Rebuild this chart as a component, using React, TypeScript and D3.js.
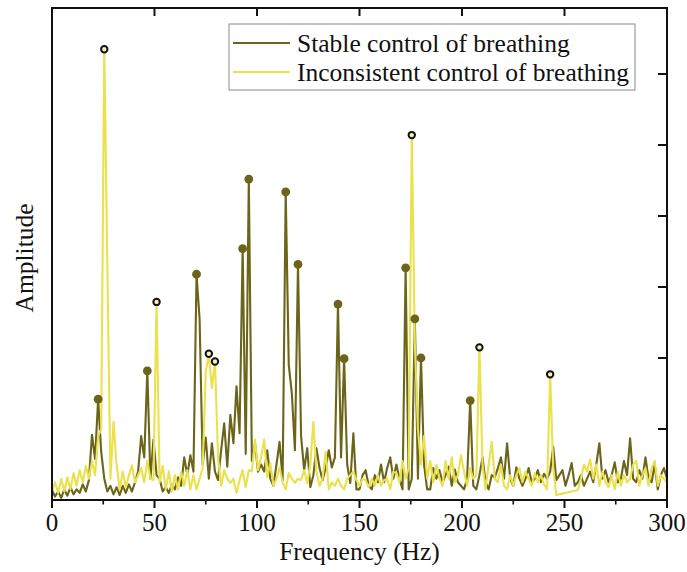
import React from "react";
import * as d3 from "d3";

// ---- data ----
const FREQ_STEP = 1.5; // Hz between spectrum samples
const seriesNames = ["Stable control of breathing", "Inconsistent control of breathing"];

const stableAmp = [
  0.14, 0.05, 0.12, 0.03, 0.15, 0.06, 0.18, 0.08, 0.15, 0.1, 0.22, 0.12, 0.28, 0.92, 0.58,
  1.42, 0.68, 0.3, 0.12, 0.2, 0.08, 0.18, 0.07, 0.2, 0.1, 0.22, 0.12, 0.25, 0.4, 0.9, 0.6,
  1.82, 0.3, 0.85, 0.35, 0.3, 0.12, 0.18, 0.1, 0.22, 0.15, 0.32, 0.2, 0.6, 0.35, 0.63, 0.4,
  3.18, 2.55, 0.5, 0.88, 0.3, 0.8, 0.4, 0.28, 0.7, 1.08, 0.47, 1.2, 0.8, 1.6, 0.94,
  3.54, 0.65, 4.52, 0.55, 0.8, 0.4, 0.5, 0.4, 0.7, 0.3, 0.2, 0.5, 0.82, 0.28,
  4.34, 1.9, 1.5, 0.7, 3.32, 0.9, 0.42, 0.73, 0.18, 0.35, 0.73, 0.45, 0.28, 0.45, 0.7, 0.46, 0.6,
  2.76, 0.6, 1.99, 0.5, 0.24, 0.94, 0.15, 0.15, 0.35, 0.42, 0.2, 0.15, 0.35, 0.25, 0.5, 0.25, 0.45, 0.6, 0.3, 0.5, 0.3, 0.15,
  3.27, 0.15, 0.3, 2.55, 0.3, 2.0, 0.5, 0.15, 0.15, 0.45, 0.3, 0.42, 0.25, 0.35, 0.47, 0.2, 0.43, 0.25, 0.2, 0.15, 0.3, 1.4,
  0.2, 0.15, 0.35, 0.6, 0.25, 0.15, 0.35, 0.32, 0.45, 0.6, 0.3, 0.8, 0.3, 0.2,
  0.46, 0.3, 0.2, 0.3, 0.45, 0.25, 0.3, 0.42, 0.25, 0.37, 0.3, 0.4, 0.75, 0.28, 0.35, 0.42, 0.2, 0.35, 0.52, 0.2, 0.25,
  0.35, 0.2, 0.3, 0.4, 0.25, 0.5, 0.8, 0.3, 0.42, 0.25, 0.35, 0.53, 0.25, 0.3, 0.55, 0.35, 0.87, 0.3, 0.25, 0.42, 0.3, 0.6, 0.3, 0.25, 0.5, 0.15, 0.35, 0.45, 0.3,
];

const inconsistentAmp = [
  0.12, 0.25, 0.1, 0.3, 0.12, 0.32, 0.15, 0.38, 0.2, 0.42, 0.25, 0.48, 0.3, 0.55, 0.35,
  0.9, 1.0, 6.35, 3.3, 0.3, 1.1, 0.5,
  0.15, 0.4, 0.18, 0.35, 0.49, 0.25, 0.35, 0.45, 0.25, 0.55, 0.3, 0.28,
  2.79, 0.25, 0.48, 0.15, 0.4, 0.12, 0.35, 0.15, 0.4, 0.2, 0.42, 0.15, 0.35, 0.15, 0.3,
  0.45, 1.8, 2.06, 1.58, 1.95, 0.6,
  0.2, 0.42, 0.3, 0.24, 0.3, 0.1, 0.28, 0.42, 0.18, 0.42, 0.4, 0.85, 0.42, 0.6, 0.85, 0.32, 0.52, 0.2, 0.3, 0.46, 0.25, 0.15, 0.38, 0.3, 0.24, 0.3, 0.28, 0.42, 0.24, 0.5,
  1.1, 0.4, 0.2, 0.3, 0.68, 0.15, 0.25, 0.2, 0.3, 0.2, 0.15, 0.3, 0.35, 0.4, 0.28, 0.2, 0.3, 0.28, 0.18, 0.3, 0.2, 0.35, 0.2, 0.28, 0.3, 0.15, 0.4,
  0.38, 0.25, 0.55, 0.3, 0.45, 5.14, 2.2, 1.0, 0.5, 0.9, 0.3, 0.55, 0.25, 0.5, 0.3, 0.2, 0.55, 0.3, 0.6, 0.25, 0.35, 0.63, 0.4, 0.2, 0.45, 0.3, 0.35,
  2.15, 0.5, 0.15, 0.5, 0.82, 0.3, 0.25, 0.5, 0.2, 0.15, 0.35, 0.2, 0.35, 0.45, 0.25, 0.4, 0.3, 0.2, 0.38, 0.25, 0.35, 0.22, 0.15,
  1.77, 0.45, 0.07, 0.08, 0.09, 0.1, 0.11, 0.12, 0.13, 0.14,
  0.3, 0.5, 0.4, 0.57, 0.3, 0.5, 0.2, 0.4, 0.25, 0.18, 0.35, 0.15, 0.4, 0.2, 0.35, 0.25, 0.3, 0.5, 0.55, 0.2, 0.35, 0.45, 0.2, 0.45, 0.55, 0.2, 0.35, 0.3, 0.25,
];

// sample indices of the marked peaks
const stablePeaks = [15, 31, 47, 62, 64, 76, 80, 93, 95, 115, 118, 120, 136];
const inconsistentPeaks = [17, 34, 51, 53, 117, 139, 162];

const xTicks = [0, 50, 100, 150, 200, 250, 300];
const xMinorTicks = [25, 75, 125, 175, 225, 275];
const yTicks = [1, 2, 3, 4, 5, 6];

// ---- layout ----
const W = 687, H = 572;
const L = 52, R = 667, T = 8, B = 500;
const FONT = "'Liberation Serif', 'Times New Roman', serif";
const DARK = "#6b6419";
const YELLOW = "#eae14c";

export default function App() {
  const x = d3.scaleLinear().domain([0, 300]).range([L, R]);
  const y = d3.scaleLinear().domain([0, 6.93]).range([B, T]);

  const toPts = (arr: number[]) => arr.map((v, i) => [i * FREQ_STEP, v] as [number, number]);
  const stablePts = toPts(stableAmp);
  const incPts = toPts(inconsistentAmp);
  const line = d3.line<[number, number]>().x(d => x(d[0])).y(d => y(d[1]));

  return (
    <svg width={W} height={H} style={{ position: "absolute", left: 0, top: 0, background: "#fff" }} fontFamily={FONT}>
      <rect x={0} y={0} width={W} height={H} fill="#fff" />
      <defs>
        <clipPath id="plotclip">
          <rect x={L} y={T} width={R - L} height={B - T} />
        </clipPath>
      </defs>
      <g clipPath="url(#plotclip)">
        <path d={line(stablePts) || ""} fill="none" stroke={DARK} strokeWidth={2.1} strokeLinejoin="round" />
        <path d={line(incPts) || ""} fill="none" stroke={YELLOW} strokeWidth={2.1} strokeLinejoin="round" />
      </g>
      {stablePeaks.map(i => (
        <circle key={"s" + i} cx={x(stablePts[i][0])} cy={y(stablePts[i][1])} r={4.4} fill={DARK} />
      ))}
      {inconsistentPeaks.map(i => (
        <circle key={"c" + i} cx={x(incPts[i][0])} cy={y(incPts[i][1])} r={3.2} fill="#f6f1b0" stroke="#111" strokeWidth={2} />
      ))}

      {/* frame */}
      <rect x={L} y={T} width={R - L} height={B - T} fill="none" stroke="#111" strokeWidth={2} />

      {/* bottom ticks */}
      {xTicks.map(t => (
        <line key={"bx" + t} x1={x(t)} x2={x(t)} y1={B} y2={B + 8} stroke="#111" strokeWidth={2} />
      ))}
      {xMinorTicks.map(t => (
        <line key={"mx" + t} x1={x(t)} x2={x(t)} y1={B} y2={B + 4.5} stroke="#111" strokeWidth={1.6} />
      ))}
      {/* top ticks (inward) */}
      {xTicks.slice(1, -1).map(t => (
        <line key={"tx" + t} x1={x(t)} x2={x(t)} y1={T} y2={T + 8} stroke="#111" strokeWidth={2} />
      ))}
      {/* right ticks (inward) */}
      {yTicks.map(t => (
        <line key={"ry" + t} x1={R} x2={R - 9} y1={y(t)} y2={y(t)} stroke="#111" strokeWidth={2} />
      ))}

      {/* tick labels */}
      {xTicks.map(t => (
        <text key={"lx" + t} x={x(t)} y={531} fontSize={25} textAnchor="middle" fill="#111">{t}</text>
      ))}
      <text x={(L + R) / 2} y={560} fontSize={25.5} textAnchor="middle" fill="#111">Frequency (Hz)</text>
      <text transform={`translate(33, ${(T + B) / 2 + 4}) rotate(-90)`} fontSize={25.5} textAnchor="middle" fill="#111">Amplitude</text>

      {/* legend */}
      <rect x={229} y={24} width={406} height={66} fill="#fff" stroke="#8a8a8a" strokeWidth={1} />
      {seriesNames.map((name, k) => {
        const ly = 43 + k * 29;
        return (
          <g key={name}>
            <line x1={233} x2={290} y1={ly} y2={ly} stroke={k === 0 ? DARK : YELLOW} strokeWidth={2} />
            <text x={297} y={ly + 8.5} fontSize={25.5} fill="#111">{name}</text>
          </g>
        );
      })}
    </svg>
  );
}
